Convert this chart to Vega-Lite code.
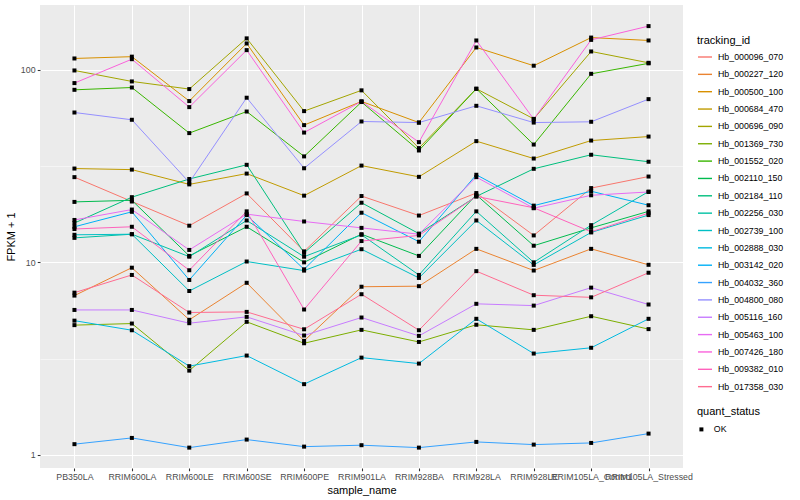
{
"$schema":"https://vega.github.io/schema/vega-lite/v6.json",
"width":643,"height":463,
"autosize":{"type":"none"},
"padding":{"left":40,"top":5,"right":117,"bottom":32},
"background":"white",
"config":{"view":{"fill":"#EBEBEB","stroke":null},"font":"Liberation Sans"},
"data":{"values":[
{"tracking_id":"Hb_000096_070","sample_name":"PB350LA","fpkm":27.7,"quant_status":"OK"},
{"tracking_id":"Hb_000096_070","sample_name":"RRIM600LA","fpkm":20.7,"quant_status":"OK"},
{"tracking_id":"Hb_000096_070","sample_name":"RRIM600LE","fpkm":15.5,"quant_status":"OK"},
{"tracking_id":"Hb_000096_070","sample_name":"RRIM600SE","fpkm":22.8,"quant_status":"OK"},
{"tracking_id":"Hb_000096_070","sample_name":"RRIM600PE","fpkm":11.4,"quant_status":"OK"},
{"tracking_id":"Hb_000096_070","sample_name":"RRIM901LA","fpkm":22.1,"quant_status":"OK"},
{"tracking_id":"Hb_000096_070","sample_name":"RRIM928BA","fpkm":17.5,"quant_status":"OK"},
{"tracking_id":"Hb_000096_070","sample_name":"RRIM928LA","fpkm":22.9,"quant_status":"OK"},
{"tracking_id":"Hb_000096_070","sample_name":"RRIM928LE","fpkm":13.8,"quant_status":"OK"},
{"tracking_id":"Hb_000096_070","sample_name":"RRIM105LA_Control","fpkm":24.3,"quant_status":"OK"},
{"tracking_id":"Hb_000096_070","sample_name":"RRIM105LA_Stressed","fpkm":27.9,"quant_status":"OK"},
{"tracking_id":"Hb_000227_120","sample_name":"PB350LA","fpkm":6.72,"quant_status":"OK"},
{"tracking_id":"Hb_000227_120","sample_name":"RRIM600LA","fpkm":9.38,"quant_status":"OK"},
{"tracking_id":"Hb_000227_120","sample_name":"RRIM600LE","fpkm":5.03,"quant_status":"OK"},
{"tracking_id":"Hb_000227_120","sample_name":"RRIM600SE","fpkm":7.83,"quant_status":"OK"},
{"tracking_id":"Hb_000227_120","sample_name":"RRIM600PE","fpkm":3.91,"quant_status":"OK"},
{"tracking_id":"Hb_000227_120","sample_name":"RRIM901LA","fpkm":7.47,"quant_status":"OK"},
{"tracking_id":"Hb_000227_120","sample_name":"RRIM928BA","fpkm":7.52,"quant_status":"OK"},
{"tracking_id":"Hb_000227_120","sample_name":"RRIM928LA","fpkm":11.75,"quant_status":"OK"},
{"tracking_id":"Hb_000227_120","sample_name":"RRIM928LE","fpkm":9.07,"quant_status":"OK"},
{"tracking_id":"Hb_000227_120","sample_name":"RRIM105LA_Control","fpkm":11.75,"quant_status":"OK"},
{"tracking_id":"Hb_000227_120","sample_name":"RRIM105LA_Stressed","fpkm":9.71,"quant_status":"OK"},
{"tracking_id":"Hb_000500_100","sample_name":"PB350LA","fpkm":114.5,"quant_status":"OK"},
{"tracking_id":"Hb_000500_100","sample_name":"RRIM600LA","fpkm":117,"quant_status":"OK"},
{"tracking_id":"Hb_000500_100","sample_name":"RRIM600LE","fpkm":68.8,"quant_status":"OK"},
{"tracking_id":"Hb_000500_100","sample_name":"RRIM600SE","fpkm":137,"quant_status":"OK"},
{"tracking_id":"Hb_000500_100","sample_name":"RRIM600PE","fpkm":51.6,"quant_status":"OK"},
{"tracking_id":"Hb_000500_100","sample_name":"RRIM901LA","fpkm":68.5,"quant_status":"OK"},
{"tracking_id":"Hb_000500_100","sample_name":"RRIM928BA","fpkm":53.2,"quant_status":"OK"},
{"tracking_id":"Hb_000500_100","sample_name":"RRIM928LA","fpkm":130.6,"quant_status":"OK"},
{"tracking_id":"Hb_000500_100","sample_name":"RRIM928LE","fpkm":105,"quant_status":"OK"},
{"tracking_id":"Hb_000500_100","sample_name":"RRIM105LA_Control","fpkm":147,"quant_status":"OK"},
{"tracking_id":"Hb_000500_100","sample_name":"RRIM105LA_Stressed","fpkm":142,"quant_status":"OK"},
{"tracking_id":"Hb_000684_470","sample_name":"PB350LA","fpkm":30.7,"quant_status":"OK"},
{"tracking_id":"Hb_000684_470","sample_name":"RRIM600LA","fpkm":30.3,"quant_status":"OK"},
{"tracking_id":"Hb_000684_470","sample_name":"RRIM600LE","fpkm":25.4,"quant_status":"OK"},
{"tracking_id":"Hb_000684_470","sample_name":"RRIM600SE","fpkm":28.9,"quant_status":"OK"},
{"tracking_id":"Hb_000684_470","sample_name":"RRIM600PE","fpkm":22.2,"quant_status":"OK"},
{"tracking_id":"Hb_000684_470","sample_name":"RRIM901LA","fpkm":31.8,"quant_status":"OK"},
{"tracking_id":"Hb_000684_470","sample_name":"RRIM928BA","fpkm":27.8,"quant_status":"OK"},
{"tracking_id":"Hb_000684_470","sample_name":"RRIM928LA","fpkm":42.6,"quant_status":"OK"},
{"tracking_id":"Hb_000684_470","sample_name":"RRIM928LE","fpkm":34.6,"quant_status":"OK"},
{"tracking_id":"Hb_000684_470","sample_name":"RRIM105LA_Control","fpkm":42.9,"quant_status":"OK"},
{"tracking_id":"Hb_000684_470","sample_name":"RRIM105LA_Stressed","fpkm":45.0,"quant_status":"OK"},
{"tracking_id":"Hb_000696_090","sample_name":"PB350LA","fpkm":99.2,"quant_status":"OK"},
{"tracking_id":"Hb_000696_090","sample_name":"RRIM600LA","fpkm":87,"quant_status":"OK"},
{"tracking_id":"Hb_000696_090","sample_name":"RRIM600LE","fpkm":79.4,"quant_status":"OK"},
{"tracking_id":"Hb_000696_090","sample_name":"RRIM600SE","fpkm":145.6,"quant_status":"OK"},
{"tracking_id":"Hb_000696_090","sample_name":"RRIM600PE","fpkm":61,"quant_status":"OK"},
{"tracking_id":"Hb_000696_090","sample_name":"RRIM901LA","fpkm":78.2,"quant_status":"OK"},
{"tracking_id":"Hb_000696_090","sample_name":"RRIM928BA","fpkm":39.2,"quant_status":"OK"},
{"tracking_id":"Hb_000696_090","sample_name":"RRIM928LA","fpkm":79.7,"quant_status":"OK"},
{"tracking_id":"Hb_000696_090","sample_name":"RRIM928LE","fpkm":55.6,"quant_status":"OK"},
{"tracking_id":"Hb_000696_090","sample_name":"RRIM105LA_Control","fpkm":124.5,"quant_status":"OK"},
{"tracking_id":"Hb_000696_090","sample_name":"RRIM105LA_Stressed","fpkm":108.7,"quant_status":"OK"},
{"tracking_id":"Hb_001369_730","sample_name":"PB350LA","fpkm":4.72,"quant_status":"OK"},
{"tracking_id":"Hb_001369_730","sample_name":"RRIM600LA","fpkm":4.81,"quant_status":"OK"},
{"tracking_id":"Hb_001369_730","sample_name":"RRIM600LE","fpkm":2.74,"quant_status":"OK"},
{"tracking_id":"Hb_001369_730","sample_name":"RRIM600SE","fpkm":4.91,"quant_status":"OK"},
{"tracking_id":"Hb_001369_730","sample_name":"RRIM600PE","fpkm":3.80,"quant_status":"OK"},
{"tracking_id":"Hb_001369_730","sample_name":"RRIM901LA","fpkm":4.46,"quant_status":"OK"},
{"tracking_id":"Hb_001369_730","sample_name":"RRIM928BA","fpkm":3.86,"quant_status":"OK"},
{"tracking_id":"Hb_001369_730","sample_name":"RRIM928LA","fpkm":4.74,"quant_status":"OK"},
{"tracking_id":"Hb_001369_730","sample_name":"RRIM928LE","fpkm":4.46,"quant_status":"OK"},
{"tracking_id":"Hb_001369_730","sample_name":"RRIM105LA_Control","fpkm":5.25,"quant_status":"OK"},
{"tracking_id":"Hb_001369_730","sample_name":"RRIM105LA_Stressed","fpkm":4.50,"quant_status":"OK"},
{"tracking_id":"Hb_001552_020","sample_name":"PB350LA","fpkm":78.7,"quant_status":"OK"},
{"tracking_id":"Hb_001552_020","sample_name":"RRIM600LA","fpkm":80.9,"quant_status":"OK"},
{"tracking_id":"Hb_001552_020","sample_name":"RRIM600LE","fpkm":46.9,"quant_status":"OK"},
{"tracking_id":"Hb_001552_020","sample_name":"RRIM600SE","fpkm":60.7,"quant_status":"OK"},
{"tracking_id":"Hb_001552_020","sample_name":"RRIM600PE","fpkm":35.5,"quant_status":"OK"},
{"tracking_id":"Hb_001552_020","sample_name":"RRIM901LA","fpkm":68.0,"quant_status":"OK"},
{"tracking_id":"Hb_001552_020","sample_name":"RRIM928BA","fpkm":38.1,"quant_status":"OK"},
{"tracking_id":"Hb_001552_020","sample_name":"RRIM928LA","fpkm":79.7,"quant_status":"OK"},
{"tracking_id":"Hb_001552_020","sample_name":"RRIM928LE","fpkm":40.9,"quant_status":"OK"},
{"tracking_id":"Hb_001552_020","sample_name":"RRIM105LA_Control","fpkm":95.3,"quant_status":"OK"},
{"tracking_id":"Hb_001552_020","sample_name":"RRIM105LA_Stressed","fpkm":108.0,"quant_status":"OK"},
{"tracking_id":"Hb_002110_150","sample_name":"PB350LA","fpkm":20.6,"quant_status":"OK"},
{"tracking_id":"Hb_002110_150","sample_name":"RRIM600LA","fpkm":21.0,"quant_status":"OK"},
{"tracking_id":"Hb_002110_150","sample_name":"RRIM600LE","fpkm":10.8,"quant_status":"OK"},
{"tracking_id":"Hb_002110_150","sample_name":"RRIM600SE","fpkm":15.3,"quant_status":"OK"},
{"tracking_id":"Hb_002110_150","sample_name":"RRIM600PE","fpkm":10.0,"quant_status":"OK"},
{"tracking_id":"Hb_002110_150","sample_name":"RRIM901LA","fpkm":14.0,"quant_status":"OK"},
{"tracking_id":"Hb_002110_150","sample_name":"RRIM928BA","fpkm":10.8,"quant_status":"OK"},
{"tracking_id":"Hb_002110_150","sample_name":"RRIM928LA","fpkm":22.4,"quant_status":"OK"},
{"tracking_id":"Hb_002110_150","sample_name":"RRIM928LE","fpkm":12.2,"quant_status":"OK"},
{"tracking_id":"Hb_002110_150","sample_name":"RRIM105LA_Control","fpkm":15.1,"quant_status":"OK"},
{"tracking_id":"Hb_002110_150","sample_name":"RRIM105LA_Stressed","fpkm":18.4,"quant_status":"OK"},
{"tracking_id":"Hb_002184_110","sample_name":"PB350LA","fpkm":16.0,"quant_status":"OK"},
{"tracking_id":"Hb_002184_110","sample_name":"RRIM600LA","fpkm":21.8,"quant_status":"OK"},
{"tracking_id":"Hb_002184_110","sample_name":"RRIM600LE","fpkm":27.1,"quant_status":"OK"},
{"tracking_id":"Hb_002184_110","sample_name":"RRIM600SE","fpkm":32.1,"quant_status":"OK"},
{"tracking_id":"Hb_002184_110","sample_name":"RRIM600PE","fpkm":11.2,"quant_status":"OK"},
{"tracking_id":"Hb_002184_110","sample_name":"RRIM901LA","fpkm":20.4,"quant_status":"OK"},
{"tracking_id":"Hb_002184_110","sample_name":"RRIM928BA","fpkm":14.1,"quant_status":"OK"},
{"tracking_id":"Hb_002184_110","sample_name":"RRIM928LA","fpkm":22.0,"quant_status":"OK"},
{"tracking_id":"Hb_002184_110","sample_name":"RRIM928LE","fpkm":30.6,"quant_status":"OK"},
{"tracking_id":"Hb_002184_110","sample_name":"RRIM105LA_Control","fpkm":36.2,"quant_status":"OK"},
{"tracking_id":"Hb_002184_110","sample_name":"RRIM105LA_Stressed","fpkm":33.3,"quant_status":"OK"},
{"tracking_id":"Hb_002256_030","sample_name":"PB350LA","fpkm":13.4,"quant_status":"OK"},
{"tracking_id":"Hb_002256_030","sample_name":"RRIM600LA","fpkm":14.0,"quant_status":"OK"},
{"tracking_id":"Hb_002256_030","sample_name":"RRIM600LE","fpkm":10.7,"quant_status":"OK"},
{"tracking_id":"Hb_002256_030","sample_name":"RRIM600SE","fpkm":16.5,"quant_status":"OK"},
{"tracking_id":"Hb_002256_030","sample_name":"RRIM600PE","fpkm":10.7,"quant_status":"OK"},
{"tracking_id":"Hb_002256_030","sample_name":"RRIM901LA","fpkm":13.9,"quant_status":"OK"},
{"tracking_id":"Hb_002256_030","sample_name":"RRIM928BA","fpkm":8.6,"quant_status":"OK"},
{"tracking_id":"Hb_002256_030","sample_name":"RRIM928LA","fpkm":18.4,"quant_status":"OK"},
{"tracking_id":"Hb_002256_030","sample_name":"RRIM928LE","fpkm":10.0,"quant_status":"OK"},
{"tracking_id":"Hb_002256_030","sample_name":"RRIM105LA_Control","fpkm":15.6,"quant_status":"OK"},
{"tracking_id":"Hb_002256_030","sample_name":"RRIM105LA_Stressed","fpkm":23.3,"quant_status":"OK"},
{"tracking_id":"Hb_002739_100","sample_name":"PB350LA","fpkm":13.9,"quant_status":"OK"},
{"tracking_id":"Hb_002739_100","sample_name":"RRIM600LA","fpkm":14.0,"quant_status":"OK"},
{"tracking_id":"Hb_002739_100","sample_name":"RRIM600LE","fpkm":7.1,"quant_status":"OK"},
{"tracking_id":"Hb_002739_100","sample_name":"RRIM600SE","fpkm":10.1,"quant_status":"OK"},
{"tracking_id":"Hb_002739_100","sample_name":"RRIM600PE","fpkm":9.06,"quant_status":"OK"},
{"tracking_id":"Hb_002739_100","sample_name":"RRIM901LA","fpkm":11.7,"quant_status":"OK"},
{"tracking_id":"Hb_002739_100","sample_name":"RRIM928BA","fpkm":8.3,"quant_status":"OK"},
{"tracking_id":"Hb_002739_100","sample_name":"RRIM928LA","fpkm":16.5,"quant_status":"OK"},
{"tracking_id":"Hb_002739_100","sample_name":"RRIM928LE","fpkm":9.7,"quant_status":"OK"},
{"tracking_id":"Hb_002739_100","sample_name":"RRIM105LA_Control","fpkm":14.3,"quant_status":"OK"},
{"tracking_id":"Hb_002739_100","sample_name":"RRIM105LA_Stressed","fpkm":17.6,"quant_status":"OK"},
{"tracking_id":"Hb_002888_030","sample_name":"PB350LA","fpkm":4.98,"quant_status":"OK"},
{"tracking_id":"Hb_002888_030","sample_name":"RRIM600LA","fpkm":4.44,"quant_status":"OK"},
{"tracking_id":"Hb_002888_030","sample_name":"RRIM600LE","fpkm":2.89,"quant_status":"OK"},
{"tracking_id":"Hb_002888_030","sample_name":"RRIM600SE","fpkm":3.28,"quant_status":"OK"},
{"tracking_id":"Hb_002888_030","sample_name":"RRIM600PE","fpkm":2.33,"quant_status":"OK"},
{"tracking_id":"Hb_002888_030","sample_name":"RRIM901LA","fpkm":3.20,"quant_status":"OK"},
{"tracking_id":"Hb_002888_030","sample_name":"RRIM928BA","fpkm":2.98,"quant_status":"OK"},
{"tracking_id":"Hb_002888_030","sample_name":"RRIM928LA","fpkm":5.09,"quant_status":"OK"},
{"tracking_id":"Hb_002888_030","sample_name":"RRIM928LE","fpkm":3.36,"quant_status":"OK"},
{"tracking_id":"Hb_002888_030","sample_name":"RRIM105LA_Control","fpkm":3.60,"quant_status":"OK"},
{"tracking_id":"Hb_002888_030","sample_name":"RRIM105LA_Stressed","fpkm":5.09,"quant_status":"OK"},
{"tracking_id":"Hb_003142_020","sample_name":"PB350LA","fpkm":15.3,"quant_status":"OK"},
{"tracking_id":"Hb_003142_020","sample_name":"RRIM600LA","fpkm":18.3,"quant_status":"OK"},
{"tracking_id":"Hb_003142_020","sample_name":"RRIM600LE","fpkm":8.1,"quant_status":"OK"},
{"tracking_id":"Hb_003142_020","sample_name":"RRIM600SE","fpkm":17.6,"quant_status":"OK"},
{"tracking_id":"Hb_003142_020","sample_name":"RRIM600PE","fpkm":9.2,"quant_status":"OK"},
{"tracking_id":"Hb_003142_020","sample_name":"RRIM901LA","fpkm":18.1,"quant_status":"OK"},
{"tracking_id":"Hb_003142_020","sample_name":"RRIM928BA","fpkm":12.8,"quant_status":"OK"},
{"tracking_id":"Hb_003142_020","sample_name":"RRIM928LA","fpkm":28.5,"quant_status":"OK"},
{"tracking_id":"Hb_003142_020","sample_name":"RRIM928LE","fpkm":19.7,"quant_status":"OK"},
{"tracking_id":"Hb_003142_020","sample_name":"RRIM105LA_Control","fpkm":23.4,"quant_status":"OK"},
{"tracking_id":"Hb_003142_020","sample_name":"RRIM105LA_Stressed","fpkm":19.8,"quant_status":"OK"},
{"tracking_id":"Hb_004032_360","sample_name":"PB350LA","fpkm":1.137,"quant_status":"OK"},
{"tracking_id":"Hb_004032_360","sample_name":"RRIM600LA","fpkm":1.225,"quant_status":"OK"},
{"tracking_id":"Hb_004032_360","sample_name":"RRIM600LE","fpkm":1.091,"quant_status":"OK"},
{"tracking_id":"Hb_004032_360","sample_name":"RRIM600SE","fpkm":1.201,"quant_status":"OK"},
{"tracking_id":"Hb_004032_360","sample_name":"RRIM600PE","fpkm":1.104,"quant_status":"OK"},
{"tracking_id":"Hb_004032_360","sample_name":"RRIM901LA","fpkm":1.123,"quant_status":"OK"},
{"tracking_id":"Hb_004032_360","sample_name":"RRIM928BA","fpkm":1.091,"quant_status":"OK"},
{"tracking_id":"Hb_004032_360","sample_name":"RRIM928LA","fpkm":1.168,"quant_status":"OK"},
{"tracking_id":"Hb_004032_360","sample_name":"RRIM928LE","fpkm":1.131,"quant_status":"OK"},
{"tracking_id":"Hb_004032_360","sample_name":"RRIM105LA_Control","fpkm":1.154,"quant_status":"OK"},
{"tracking_id":"Hb_004032_360","sample_name":"RRIM105LA_Stressed","fpkm":1.29,"quant_status":"OK"},
{"tracking_id":"Hb_004800_080","sample_name":"PB350LA","fpkm":60,"quant_status":"OK"},
{"tracking_id":"Hb_004800_080","sample_name":"RRIM600LA","fpkm":55,"quant_status":"OK"},
{"tracking_id":"Hb_004800_080","sample_name":"RRIM600LE","fpkm":26.0,"quant_status":"OK"},
{"tracking_id":"Hb_004800_080","sample_name":"RRIM600SE","fpkm":71.6,"quant_status":"OK"},
{"tracking_id":"Hb_004800_080","sample_name":"RRIM600PE","fpkm":30.8,"quant_status":"OK"},
{"tracking_id":"Hb_004800_080","sample_name":"RRIM901LA","fpkm":53.9,"quant_status":"OK"},
{"tracking_id":"Hb_004800_080","sample_name":"RRIM928BA","fpkm":53.2,"quant_status":"OK"},
{"tracking_id":"Hb_004800_080","sample_name":"RRIM928LA","fpkm":65,"quant_status":"OK"},
{"tracking_id":"Hb_004800_080","sample_name":"RRIM928LE","fpkm":53.2,"quant_status":"OK"},
{"tracking_id":"Hb_004800_080","sample_name":"RRIM105LA_Control","fpkm":53.7,"quant_status":"OK"},
{"tracking_id":"Hb_004800_080","sample_name":"RRIM105LA_Stressed","fpkm":70.4,"quant_status":"OK"},
{"tracking_id":"Hb_005116_160","sample_name":"PB350LA","fpkm":5.66,"quant_status":"OK"},
{"tracking_id":"Hb_005116_160","sample_name":"RRIM600LA","fpkm":5.66,"quant_status":"OK"},
{"tracking_id":"Hb_005116_160","sample_name":"RRIM600LE","fpkm":4.83,"quant_status":"OK"},
{"tracking_id":"Hb_005116_160","sample_name":"RRIM600SE","fpkm":5.21,"quant_status":"OK"},
{"tracking_id":"Hb_005116_160","sample_name":"RRIM600PE","fpkm":4.17,"quant_status":"OK"},
{"tracking_id":"Hb_005116_160","sample_name":"RRIM901LA","fpkm":5.17,"quant_status":"OK"},
{"tracking_id":"Hb_005116_160","sample_name":"RRIM928BA","fpkm":4.15,"quant_status":"OK"},
{"tracking_id":"Hb_005116_160","sample_name":"RRIM928LA","fpkm":6.09,"quant_status":"OK"},
{"tracking_id":"Hb_005116_160","sample_name":"RRIM928LE","fpkm":5.96,"quant_status":"OK"},
{"tracking_id":"Hb_005116_160","sample_name":"RRIM105LA_Control","fpkm":7.39,"quant_status":"OK"},
{"tracking_id":"Hb_005116_160","sample_name":"RRIM105LA_Stressed","fpkm":6.04,"quant_status":"OK"},
{"tracking_id":"Hb_005463_100","sample_name":"PB350LA","fpkm":16.6,"quant_status":"OK"},
{"tracking_id":"Hb_005463_100","sample_name":"RRIM600LA","fpkm":18.8,"quant_status":"OK"},
{"tracking_id":"Hb_005463_100","sample_name":"RRIM600LE","fpkm":11.6,"quant_status":"OK"},
{"tracking_id":"Hb_005463_100","sample_name":"RRIM600SE","fpkm":17.8,"quant_status":"OK"},
{"tracking_id":"Hb_005463_100","sample_name":"RRIM600PE","fpkm":16.3,"quant_status":"OK"},
{"tracking_id":"Hb_005463_100","sample_name":"RRIM901LA","fpkm":15.1,"quant_status":"OK"},
{"tracking_id":"Hb_005463_100","sample_name":"RRIM928BA","fpkm":14.0,"quant_status":"OK"},
{"tracking_id":"Hb_005463_100","sample_name":"RRIM928LA","fpkm":27.7,"quant_status":"OK"},
{"tracking_id":"Hb_005463_100","sample_name":"RRIM928LE","fpkm":19.1,"quant_status":"OK"},
{"tracking_id":"Hb_005463_100","sample_name":"RRIM105LA_Control","fpkm":22.3,"quant_status":"OK"},
{"tracking_id":"Hb_005463_100","sample_name":"RRIM105LA_Stressed","fpkm":23.2,"quant_status":"OK"},
{"tracking_id":"Hb_007426_180","sample_name":"PB350LA","fpkm":85.3,"quant_status":"OK"},
{"tracking_id":"Hb_007426_180","sample_name":"RRIM600LA","fpkm":113.5,"quant_status":"OK"},
{"tracking_id":"Hb_007426_180","sample_name":"RRIM600LE","fpkm":64,"quant_status":"OK"},
{"tracking_id":"Hb_007426_180","sample_name":"RRIM600SE","fpkm":126.5,"quant_status":"OK"},
{"tracking_id":"Hb_007426_180","sample_name":"RRIM600PE","fpkm":47.2,"quant_status":"OK"},
{"tracking_id":"Hb_007426_180","sample_name":"RRIM901LA","fpkm":68.5,"quant_status":"OK"},
{"tracking_id":"Hb_007426_180","sample_name":"RRIM928BA","fpkm":42.1,"quant_status":"OK"},
{"tracking_id":"Hb_007426_180","sample_name":"RRIM928LA","fpkm":142,"quant_status":"OK"},
{"tracking_id":"Hb_007426_180","sample_name":"RRIM928LE","fpkm":55.4,"quant_status":"OK"},
{"tracking_id":"Hb_007426_180","sample_name":"RRIM105LA_Control","fpkm":143,"quant_status":"OK"},
{"tracking_id":"Hb_007426_180","sample_name":"RRIM105LA_Stressed","fpkm":168.6,"quant_status":"OK"},
{"tracking_id":"Hb_009382_010","sample_name":"PB350LA","fpkm":14.9,"quant_status":"OK"},
{"tracking_id":"Hb_009382_010","sample_name":"RRIM600LA","fpkm":15.3,"quant_status":"OK"},
{"tracking_id":"Hb_009382_010","sample_name":"RRIM600LE","fpkm":9.1,"quant_status":"OK"},
{"tracking_id":"Hb_009382_010","sample_name":"RRIM600SE","fpkm":18.4,"quant_status":"OK"},
{"tracking_id":"Hb_009382_010","sample_name":"RRIM600PE","fpkm":5.69,"quant_status":"OK"},
{"tracking_id":"Hb_009382_010","sample_name":"RRIM901LA","fpkm":12.9,"quant_status":"OK"},
{"tracking_id":"Hb_009382_010","sample_name":"RRIM928BA","fpkm":13.8,"quant_status":"OK"},
{"tracking_id":"Hb_009382_010","sample_name":"RRIM928LA","fpkm":22.0,"quant_status":"OK"},
{"tracking_id":"Hb_009382_010","sample_name":"RRIM928LE","fpkm":19.2,"quant_status":"OK"},
{"tracking_id":"Hb_009382_010","sample_name":"RRIM105LA_Control","fpkm":14.4,"quant_status":"OK"},
{"tracking_id":"Hb_009382_010","sample_name":"RRIM105LA_Stressed","fpkm":18.0,"quant_status":"OK"},
{"tracking_id":"Hb_017358_030","sample_name":"PB350LA","fpkm":6.96,"quant_status":"OK"},
{"tracking_id":"Hb_017358_030","sample_name":"RRIM600LA","fpkm":8.6,"quant_status":"OK"},
{"tracking_id":"Hb_017358_030","sample_name":"RRIM600LE","fpkm":5.49,"quant_status":"OK"},
{"tracking_id":"Hb_017358_030","sample_name":"RRIM600SE","fpkm":5.53,"quant_status":"OK"},
{"tracking_id":"Hb_017358_030","sample_name":"RRIM600PE","fpkm":4.49,"quant_status":"OK"},
{"tracking_id":"Hb_017358_030","sample_name":"RRIM901LA","fpkm":6.83,"quant_status":"OK"},
{"tracking_id":"Hb_017358_030","sample_name":"RRIM928BA","fpkm":4.44,"quant_status":"OK"},
{"tracking_id":"Hb_017358_030","sample_name":"RRIM928LA","fpkm":9.0,"quant_status":"OK"},
{"tracking_id":"Hb_017358_030","sample_name":"RRIM928LE","fpkm":6.75,"quant_status":"OK"},
{"tracking_id":"Hb_017358_030","sample_name":"RRIM105LA_Control","fpkm":6.58,"quant_status":"OK"},
{"tracking_id":"Hb_017358_030","sample_name":"RRIM105LA_Stressed","fpkm":8.83,"quant_status":"OK"}
]},
"encoding":{
"x":{"field":"sample_name","type":"nominal",
"sort":["PB350LA","RRIM600LA","RRIM600LE","RRIM600SE","RRIM600PE","RRIM901LA","RRIM928BA","RRIM928LA","RRIM928LE","RRIM105LA_Control","RRIM105LA_Stressed"],
"scale":{"type":"point","padding":0.6},
"axis":{"title":"sample_name","labelAngle":0,"labelOverlap":false,"labelBound":false,"labelFlush":false,"grid":true,"gridColor":"white","gridWidth":1.07,"domain":false,"tickColor":"#333333","tickSize":2.75,"tickWidth":1.07,"labelColor":"#4D4D4D","labelFontSize":8.8,"labelPadding":2.2,"titleFontSize":11,"titleFontWeight":"normal","titleColor":"black","titlePadding":3}},
"y":{"field":"fpkm","type":"quantitative",
"scale":{"type":"log","domain":[0.855,217],"nice":false,"zero":false},
"axis":{"title":"FPKM + 1","values":[1,3.16228,10,31.6228,100],
"labelExpr":"(datum.value==1||datum.value==10||datum.value==100) ? format(datum.value,'d') : ''",
"grid":true,"gridColor":"white",
"gridWidth":{"condition":{"test":"datum.value==1||datum.value==10||datum.value==100","value":1.07},"value":0.53},
"tickOpacity":{"condition":{"test":"datum.value==1||datum.value==10||datum.value==100","value":1},"value":0},
"domain":false,"tickColor":"#333333","tickSize":2.75,"tickWidth":1.07,"labelColor":"#4D4D4D","labelFontSize":8.8,"labelPadding":2.2,"titleFontSize":11,"titleFontWeight":"normal","titleColor":"black","titlePadding":4}}
},
"layer":[
{"mark":{"type":"line","strokeWidth":1},
"encoding":{"color":{"field":"tracking_id","type":"nominal",
"scale":{"domain":["Hb_000096_070","Hb_000227_120","Hb_000500_100","Hb_000684_470","Hb_000696_090","Hb_001369_730","Hb_001552_020","Hb_002110_150","Hb_002184_110","Hb_002256_030","Hb_002739_100","Hb_002888_030","Hb_003142_020","Hb_004032_360","Hb_004800_080","Hb_005116_160","Hb_005463_100","Hb_007426_180","Hb_009382_010","Hb_017358_030"],
"range":["#F8766D","#EA8331","#D89000","#C09B00","#A3A500","#7CAE00","#39B600","#00BB4E","#00BF7D","#00C1A3","#00BFC4","#00BAE0","#00B0F6","#35A2FF","#9590FF","#C77CFF","#E76BF3","#FA62DB","#FF62BC","#FF6C91"]},
"legend":{"title":"tracking_id","orient":"none","legendX":657,"legendY":30,"padding":0,"titleFontSize":11,"titleFontWeight":"normal","titleColor":"black","titlePadding":3,"labelFontSize":8.8,"labelColor":"black","symbolType":"stroke","symbolSize":196,"symbolStrokeWidth":1.4,"rowPadding":4.35,"labelOffset":5}}}},
{"mark":{"type":"point","filled":true,"opacity":1,"color":"black","size":16},
"encoding":{"shape":{"field":"quant_status","type":"nominal","scale":{"range":["square"]},
"legend":{"title":"quant_status","orient":"none","legendX":657,"legendY":401,"padding":0,"titleFontSize":11,"titleFontWeight":"normal","titleColor":"black","titlePadding":8,"labelFontSize":8.8,"labelColor":"black","symbolSize":16,"symbolFillColor":"black","symbolStrokeColor":"black","labelOffset":8}}}}
]
}
